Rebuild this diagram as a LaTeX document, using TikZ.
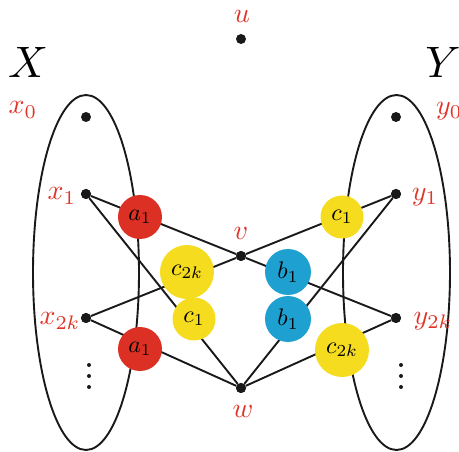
\documentclass[tikz,border=0pt]{standalone}
\usepackage{graphicx}
\usetikzlibrary{shapes.geometric}
\definecolor{lblred}{RGB}{224,52,40}
\definecolor{fillred}{RGB}{220,48,36}
\definecolor{fillyel}{RGB}{245,220,30}
\definecolor{fillblue}{RGB}{30,160,208}
\newcommand{\lb}[1]{\scalebox{2.8}{$#1$}}
\newcommand{\bl}[1]{\scalebox{2.4}{$#1$}}
\newcommand{\st}[1]{\scalebox{4.4}{$#1$}}
\begin{document}
\begin{tikzpicture}[x=1pt,y=-1pt,
  vtx/.style={circle,fill=black!90,inner sep=0pt,minimum size=10pt},
  lbl/.style={text=lblred,inner sep=0pt},
  setlbl/.style={inner sep=0pt},
  ball/.style={circle,inner sep=0pt},
  redball/.style={ball,fill=fillred,minimum size=44pt},
  yelball/.style={ball,fill=fillyel},
  blueball/.style={ball,fill=fillblue,minimum size=46pt},
  edge/.style={line width=1.9pt,black!90},
  setline/.style={draw,ellipse,line width=1.9pt,black!90,inner sep=0pt},
  tinydot/.style={circle,fill=black!90,inner sep=0pt,minimum size=4pt}]
\useasboundingbox (0,0) rectangle (459,452);
% vertices
\node[vtx] (x0) at (86,117) {};
\node[vtx] (x1) at (86,194) {};
\node[vtx] (x2k) at (86,318) {};
\node[vtx] (y0) at (396,117) {};
\node[vtx] (y1) at (396,194) {};
\node[vtx] (y2k) at (396,318) {};
\node[vtx] (u) at (241,39) {};
\node[vtx] (v) at (241,256) {};
\node[vtx] (w) at (241,388) {};
% edges
\draw[edge] (x1) -- (v);
\draw[edge] (x1) -- (w);
\draw[edge] (x2k) -- (v);
\draw[edge] (x2k) -- (w);
\draw[edge] (y1) -- (v);
\draw[edge] (y1) -- (w);
\draw[edge] (y2k) -- (v);
\draw[edge] (y2k) -- (w);
% sets
\node[setline,minimum width=106pt,minimum height=355pt] (X) at (86,272.5) {};
\node[setline,minimum width=107pt,minimum height=355pt] (Y) at (396.5,272.5) {};
% balls
\node[redball] (a1t) at (140,217) {\bl{a_1}};
\node[redball] (a1b) at (140,349) {\bl{a_1}};
\node[yelball,minimum size=54pt] (c2kl) at (187,272) {\bl{c_{2k}}};
\node[yelball,minimum size=43pt] (c1l) at (194,319) {\bl{c_1}};
\node[blueball] (b1t) at (288,272) {\bl{b_1}};
\node[blueball] (b1b) at (288,319) {\bl{b_1}};
\node[yelball,minimum size=43pt] (c1r) at (342,217) {\bl{c_1}};
\node[yelball,minimum size=54pt] (c2kr) at (342,350) {\bl{c_{2k}}};
% redraw vertices on top
\node[vtx] at (x1) {};
\node[vtx] at (x2k) {};
\node[vtx] at (y1) {};
\node[vtx] at (y2k) {};
\node[vtx] at (v) {};
\node[vtx] at (w) {};
% dots
\node[tinydot] (dl1) at (89,365) {};
\node[tinydot] (dl2) at (89,376) {};
\node[tinydot] (dl3) at (89,387) {};
\node[tinydot] (dr1) at (401,365) {};
\node[tinydot] (dr2) at (401,376) {};
\node[tinydot] (dr3) at (401,387) {};
% labels
\node[setlbl] (LX) at (28,62) {\st{X}};
\node[setlbl] (LY) at (443,62) {\st{Y}};
\node[lbl] (lx0) at (23,110) {\lb{x_0}};
\node[lbl] (lx1) at (62,196) {\lb{x_1}};
\node[lbl] (lx2k) at (60,321) {\lb{x_{2k}}};
\node[lbl,anchor=west] (ly0) at (436,111) {\lb{y_0}};
\node[lbl] (ly1) at (425,197) {\lb{y_1}};
\node[lbl] (ly2k) at (433,321) {\lb{y_{2k}}};
\node[lbl] (lu) at (242,16) {\lb{u}};
\node[lbl] (lv) at (241,233) {\lb{v}};
\node[lbl] (lw) at (243,411) {\lb{w}};
\end{tikzpicture}
\end{document}
